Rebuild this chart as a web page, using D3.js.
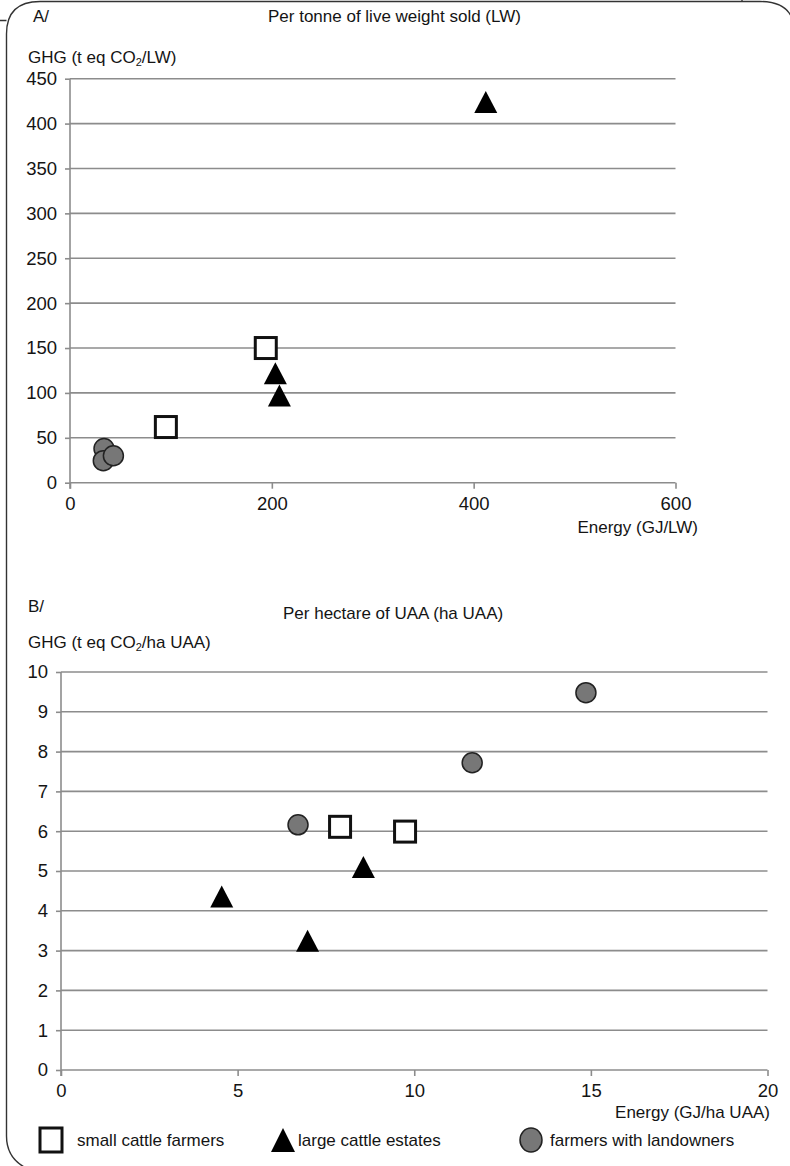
<!DOCTYPE html>
<html>
<head>
<meta charset="utf-8">
<script src="https://cdn.jsdelivr.net/npm/d3@7"></script>
<style>
  html, body { margin: 0; padding: 0; background: #fff; }
  svg { display: block; font-family: "Liberation Sans", Arial, Helvetica, sans-serif; }
  text { fill: #141414; }
</style>
</head>
<body>
<svg id="chart" width="790" height="1166"></svg>
<script>
// ---- Data ----
const groups = ["small cattle farmers", "large cattle estates", "farmers with landowners"];

// Panel A: per tonne of live weight sold
const energyLW_small = [95, 194];
const ghgLW_small = [62, 150];
const energyLW_large = [203.5, 207.5, 412];
const ghgLW_large = [122, 97, 424];
const energyLW_owners = [33.7, 33, 43];
const ghgLW_owners = [38, 24.5, 30];
const ticksLW_x = [0, 200, 400, 600];
const ticksLW_y = [0, 50, 100, 150, 200, 250, 300, 350, 400, 450];

// Panel B: per hectare of UAA
const energyHa_small = [7.9, 9.74];
const ghgHa_small = [6.11, 5.99];
const energyHa_large = [8.56, 4.55, 6.98];
const ghgHa_large = [5.1, 4.36, 3.25];
const energyHa_owners = [14.86, 11.64, 6.71];
const ghgHa_owners = [9.48, 7.72, 6.16];
const ticksHa_x = [0, 5, 10, 15, 20];
const ticksHa_y = [0, 1, 2, 3, 4, 5, 6, 7, 8, 9, 10];

const svg = d3.select("#chart");
const gridColor = "#8c8c8c";
const fs = 17;       // labels, titles, legend
const tickFs = 18.5; // axis tick numbers

// ---- Rounded frame around both panels ----
svg.append("path")
  .attr("d", "M0,20.5 H6.5 M26,1168 Q6.5,1158 6.5,1136 V34 Q6.5,1.5 40,1.5 H760 Q785,1.5 792,18 M742,0 V1.5")
  .attr("fill", "none").attr("stroke", "#333").attr("stroke-width", 1.4);

// ---- Marker drawing ----
function drawMarkers(g, x, y, xs, ys, kind) {
  const pts = xs.map((v, i) => [v, ys[i]]);
  if (kind === "square") {
    g.selectAll(null).data(pts).enter().append("rect")
      .attr("x", d => x(d[0]) - 10.5).attr("y", d => y(d[1]) - 10.5)
      .attr("width", 21).attr("height", 21)
      .attr("fill", "#fff").attr("stroke", "#111").attr("stroke-width", 3);
  } else if (kind === "triangle") {
    g.selectAll(null).data(pts).enter().append("path")
      .attr("d", d => {
        const cx = x(d[0]), cy = y(d[1]);
        return `M${cx},${cy - 11} L${cx + 11.5},${cy + 11} L${cx - 11.5},${cy + 11} Z`;
      })
      .attr("fill", "#000");
  } else {
    g.selectAll(null).data(pts).enter().append("circle")
      .attr("cx", d => x(d[0])).attr("cy", d => y(d[1])).attr("r", 10)
      .attr("fill", "#777").attr("stroke", "#222").attr("stroke-width", 1.5);
  }
}

function panel(opt) {
  const x = d3.scaleLinear().domain(opt.xDomain).range(opt.xRange);
  const y = d3.scaleLinear().domain(opt.yDomain).range(opt.yRange);
  const g = svg.append("g");

  // horizontal gridlines
  g.append("g").selectAll("line").data(opt.yTicks.filter(t => t !== 0)).enter().append("line")
    .attr("x1", opt.xRange[0]).attr("x2", opt.xRange[1])
    .attr("y1", d => y(d)).attr("y2", d => y(d))
    .attr("stroke", gridColor).attr("stroke-width", 1.6);

  // y axis
  const ya = g.append("g").attr("transform", `translate(${opt.xRange[0]},0)`)
    .call(d3.axisLeft(y).tickValues(opt.yTicks).tickSize(5).tickPadding(opt.yPad).tickFormat(d3.format("d")));
  ya.select(".domain").attr("stroke", gridColor).attr("stroke-width", 1.6)
    .attr("d", `M0,${opt.yRange[1]}V${opt.yRange[0] + 6}`);
  ya.selectAll(".tick line").attr("stroke", gridColor).attr("stroke-width", 1.6);
  ya.selectAll(".tick text").attr("font-size", tickFs).attr("fill", "#141414");

  // x axis
  const xa = g.append("g").attr("transform", `translate(0,${opt.yRange[0]})`)
    .call(d3.axisBottom(x).tickValues(opt.xTicks).tickSize(6).tickPadding(8).tickFormat(d3.format("d")));
  xa.select(".domain").attr("stroke", gridColor).attr("stroke-width", 1.6)
    .attr("d", `M${opt.xRange[0]},0H${opt.xRange[1]}`);
  xa.selectAll(".tick line").attr("stroke", gridColor).attr("stroke-width", 1.6);
  xa.selectAll(".tick text").attr("font-size", tickFs).attr("fill", "#141414");

  // labels
  g.append("text").attr("x", opt.tagX).attr("y", opt.tagY).attr("font-size", fs).text(opt.tag);
  g.append("text").attr("x", opt.titleX).attr("y", opt.titleY).attr("font-size", fs).text(opt.title);
  const yl = g.append("text").attr("x", 28).attr("y", opt.yLabelY).attr("font-size", fs);
  yl.append("tspan").text("GHG (t eq CO");
  yl.append("tspan").attr("font-size", 11).attr("dy", 3).text("2");
  yl.append("tspan").attr("dy", -3).text(opt.yUnit);
  g.append("text").attr("x", opt.xLabelX).attr("y", opt.xLabelY).attr("font-size", fs)
    .attr("text-anchor", "end").text(opt.xLabel);

  drawMarkers(g, x, y, opt.data[0][0], opt.data[0][1], "square");
  drawMarkers(g, x, y, opt.data[1][0], opt.data[1][1], "triangle");
  drawMarkers(g, x, y, opt.data[2][0], opt.data[2][1], "circle");
}

panel({
  xDomain: [0, 600], xRange: [70, 675.5],
  yDomain: [0, 450], yRange: [482.7, 78.7],
  xTicks: ticksLW_x, yTicks: ticksLW_y, yPad: 8,
  tag: "A/", tagX: 33, tagY: 22,
  title: "Per tonne of live weight sold (LW)", titleX: 268, titleY: 22,
  yLabelY: 63, yUnit: "/LW)",
  xLabel: "Energy (GJ/LW)", xLabelX: 698, xLabelY: 533,
  data: [[energyLW_small, ghgLW_small], [energyLW_large, ghgLW_large], [energyLW_owners, ghgLW_owners]]
});

panel({
  xDomain: [0, 20], xRange: [61, 767.5],
  yDomain: [0, 10], yRange: [1070, 672],
  xTicks: ticksHa_x, yTicks: ticksHa_y, yPad: 8,
  tag: "B/", tagX: 28, tagY: 612,
  title: "Per hectare of UAA (ha UAA)", titleX: 283, titleY: 619,
  yLabelY: 648, yUnit: "/ha UAA)",
  xLabel: "Energy (GJ/ha UAA)", xLabelX: 770, xLabelY: 1118,
  data: [[energyHa_small, ghgHa_small], [energyHa_large, ghgHa_large], [energyHa_owners, ghgHa_owners]]
});

// ---- Legend ----
const legend = svg.append("g").attr("transform", "translate(0,1140)");
const legendX = [51, 283, 531];
const legendTextX = [77, 298, 550];
const kinds = ["square", "triangle", "circle"];
groups.forEach((name, i) => {
  const cx = legendX[i];
  if (kinds[i] === "square") {
    legend.append("rect").attr("x", cx - 11).attr("y", -12).attr("width", 22).attr("height", 24)
      .attr("fill", "#fff").attr("stroke", "#111").attr("stroke-width", 3);
  } else if (kinds[i] === "triangle") {
    legend.append("path").attr("d", `M${cx},-12 L${cx + 12},12 L${cx - 12},12 Z`).attr("fill", "#000");
  } else {
    legend.append("ellipse").attr("cx", cx).attr("cy", 0).attr("rx", 11).attr("ry", 12)
      .attr("fill", "#777").attr("stroke", "#222").attr("stroke-width", 1.5);
  }
  legend.append("text").attr("x", legendTextX[i]).attr("y", 6).attr("font-size", fs).text(name);
});
</script>
</body>
</html>
